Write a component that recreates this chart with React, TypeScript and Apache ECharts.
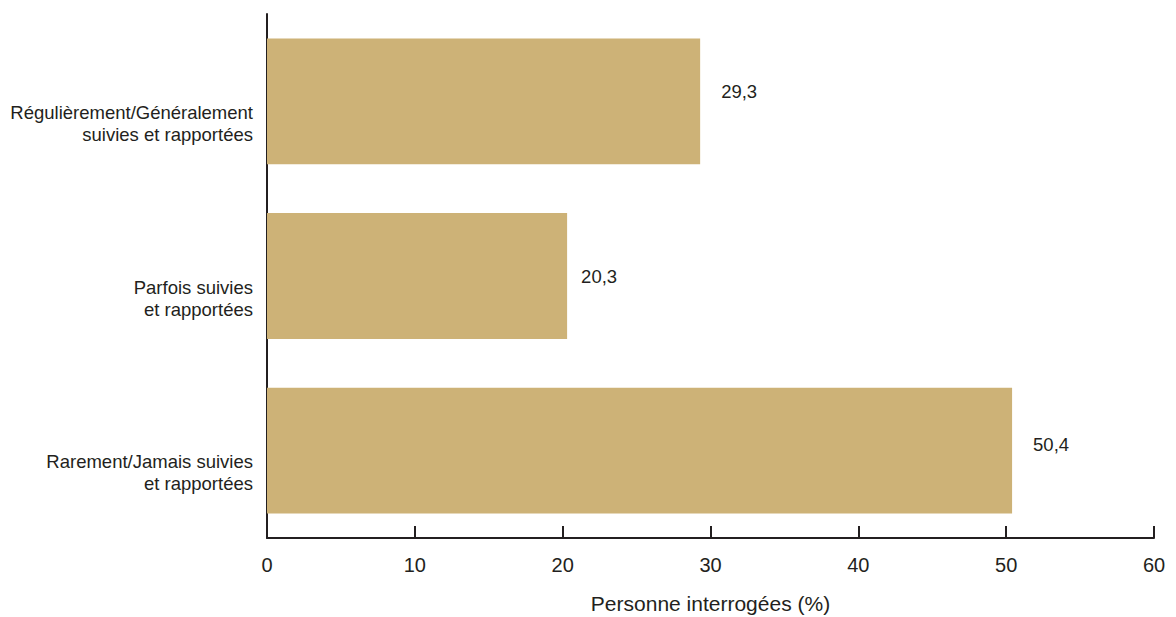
import React, { useEffect, useRef } from "react";
import * as echarts from "echarts";

const categories = [
  "Rarement/Jamais suivies\net rapportées",
  "Parfois suivies\net rapportées",
  "Régulièrement/Généralement\nsuivies et rapportées",
];
const values = [50.4, 20.3, 29.3];
const xTicks = [0, 10, 20, 30, 40, 50, 60];
const axisName = "Personne interrogées (%)";

export default function App() {
  const ref = useRef<HTMLDivElement>(null);
  useEffect(() => {
    if (!ref.current) return;
    const chart = echarts.init(ref.current, undefined, { renderer: "svg" });
    const labelOffsets = [[21, -6], [14, 0], [21, -10]];
    const font = "Liberation Sans, Arial, sans-serif";
    chart.setOption({
      animation: false,
      grid: {
        left: 259,
        right: 14,
        top: 6,
        bottom: 79,
        containLabel: false,
        outerBoundsMode: "none",
      },
      xAxis: {
        type: "value",
        min: xTicks[0],
        max: xTicks[xTicks.length - 1],
        interval: 10,
        name: axisName,
        nameLocation: "middle",
        nameGap: 55,
        nameTextStyle: { color: "#231f20", fontSize: 21, fontFamily: font },
        axisLine: { show: true, lineStyle: { color: "#231f20", width: 2 } },
        axisTick: { show: true, inside: true, length: 12, lineStyle: { color: "#231f20", width: 2 } },
        axisLabel: { color: "#231f20", fontSize: 20, fontFamily: font, margin: 17 },
        splitLine: { show: false },
      },
      yAxis: {
        type: "category",
        data: categories,
        axisLine: { show: true, lineStyle: { color: "#231f20", width: 2 } },
        axisTick: { show: false },
        axisLabel: {
          color: "#231f20",
          fontSize: 18.5,
          lineHeight: 22,
          fontFamily: font,
          margin: 14,
          align: "right",
          verticalAlign: "top",
        },
      },
      series: [
        {
          type: "bar",
          data: values.map((v, i) => ({
            value: v,
            label: { offset: labelOffsets[i] },
          })),
          barCategoryGap: "28%",
          itemStyle: { color: "#cdb277" },
          label: {
            show: true,
            position: "right",
            distance: 0,
            color: "#231f20",
            fontSize: 18.5,
            fontFamily: font,
            formatter: (p: any) => String(p.value).replace(".", ","),
          },
        },
      ],
    });
    return () => chart.dispose();
  }, []);
  return <div ref={ref} style={{ width: 1160, height: 609 }} />;
}
